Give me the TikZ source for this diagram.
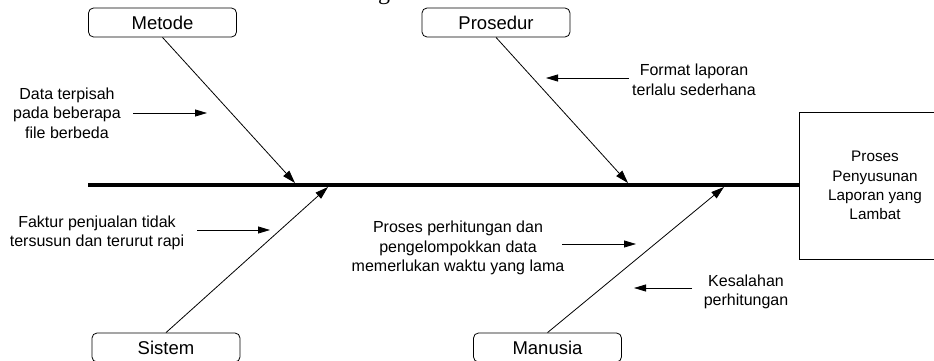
\documentclass[tikz,border=0pt]{standalone}
\usepackage{fontspec}
\setmainfont{Liberation Sans}
\newfontfamily\capserif{Liberation Serif}
\usetikzlibrary{arrows.meta}
\begin{document}
\begin{tikzpicture}[x=1pt,y=-1pt,
  cat/.style={draw,rounded corners=5pt,minimum width=148pt,minimum height=29pt,font=\fontsize{18.5}{22}\selectfont,inner sep=0pt,line width=0.8pt},
  note/.style={align=center,font=\fontsize{16}{19.5}\selectfont,inner sep=0pt},
  bone/.style={line width=0.8pt,-{Triangle[length=13pt,width=8pt]}},
  smallarr/.style={line width=0.8pt,-{Triangle[length=12pt,width=7pt]}},
  spine/.style={line width=3.5pt}]
\useasboundingbox (0,0) rectangle (934,361);
\node[font=\capserif\fontsize{24}{24}\selectfont,anchor=base,inner sep=0pt] (capg) at (384,0) {g};
\node[cat] (metode) at (162.5,22.5) {Metode};
\node[cat] (prosedur) at (496,22.5) {Prosedur};
\node[cat] (sistem) at (166,347.5) {Sistem};
\node[cat] (manusia) at (547.5,347.5) {Manusia};
\node[draw,line width=0.8pt,minimum width=152pt,minimum height=147pt,align=center,font=\fontsize{15.3}{19.3}\selectfont] (effect) at (875,185.5) {Proses\\Penyusunan\\Laporan yang\\Lambat};
\coordinate (tail) at (88,185);
\draw[spine] (tail) -- (effect.west |- tail);
\coordinate (tm) at (295,183);
\coordinate (tp) at (628,183);
\coordinate (ts) at (328,187);
\coordinate (tu) at (724,187);
\draw[bone] (metode.south) -- (tm);
\draw[bone] (prosedur.south) -- (tp);
\draw[bone] (sistem.north) -- (ts);
\draw[bone] (manusia.north) -- (tu);
\node[note] (n1) at (67,113) {Data terpisah\\pada beberapa\\file berbeda};
\node[note] (n2) at (694,80) {Format laporan\\terlalu sederhana};
\node[note] (n3) at (97,233) {Faktur penjualan tidak\\tersusun dan terurut rapi};
\node[note] (n4) at (458,248) {Proses perhitungan dan\\pengelompokkan data\\memerlukan waktu yang lama};
\node[note] (n5) at (746,292) {Kesalahan\\perhitungan};
\coordinate (a1s) at (133,113); \coordinate (a1e) at (207,113);
\coordinate (a2s) at (629,78);  \coordinate (a2e) at (546,78);
\coordinate (a3s) at (197,230); \coordinate (a3e) at (270,230);
\coordinate (a4s) at (562,244); \coordinate (a4e) at (636,244);
\coordinate (a5s) at (692,288); \coordinate (a5e) at (634,288);
\draw[smallarr] (a1s) -- (a1e);
\draw[smallarr] (a2s) -- (a2e);
\draw[smallarr] (a3s) -- (a3e);
\draw[smallarr] (a4s) -- (a4e);
\draw[smallarr] (a5s) -- (a5e);
\end{tikzpicture}
\end{document}
